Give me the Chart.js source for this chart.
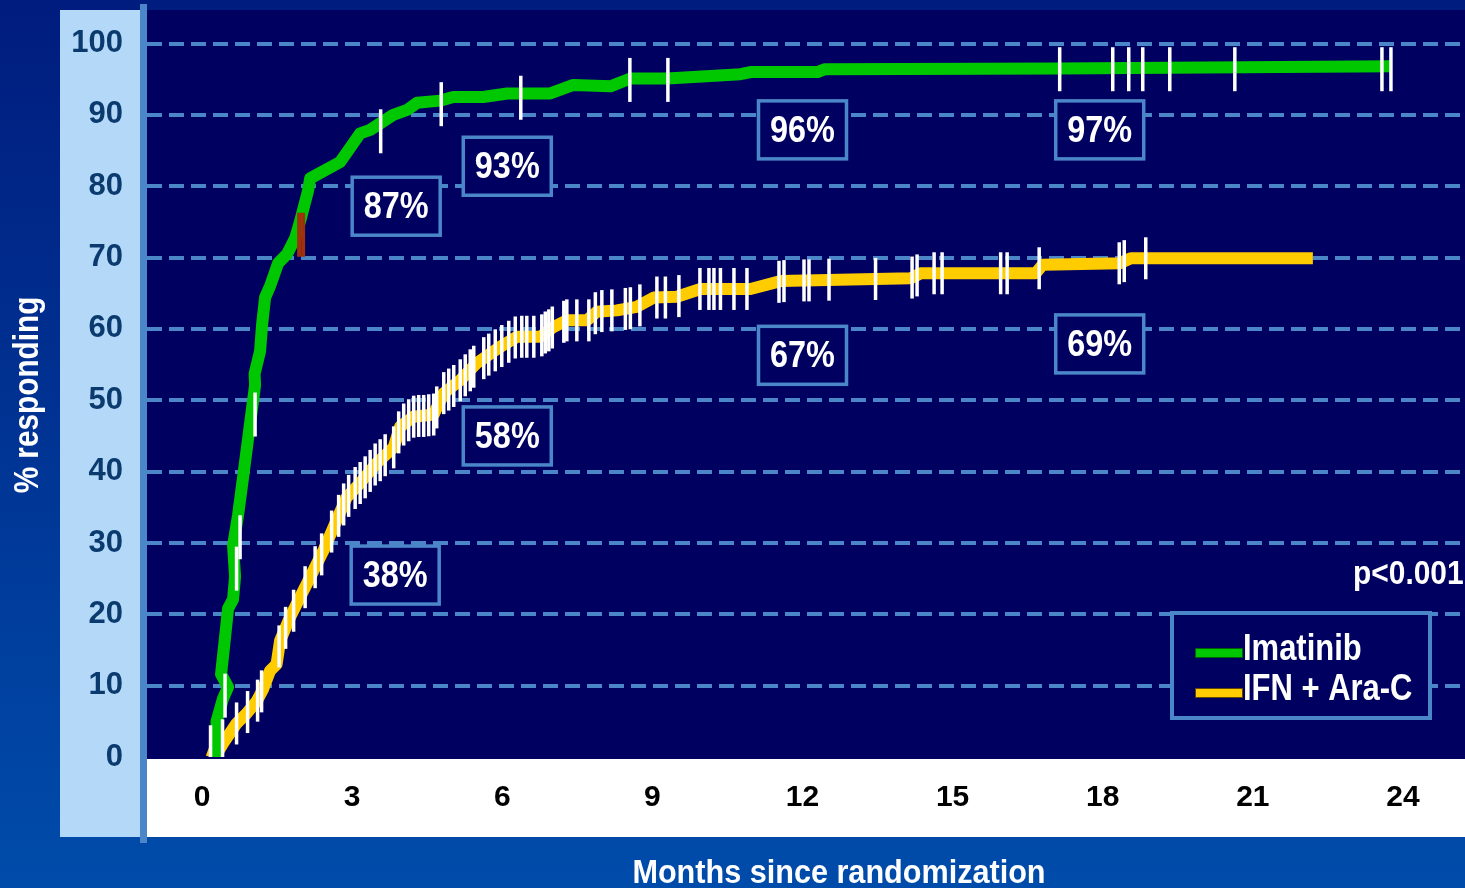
<!DOCTYPE html>
<html>
<head>
<meta charset="utf-8">
<script src="https://cdn.jsdelivr.net/npm/chart.js@4.4.1/dist/chart.umd.min.js"></script>
<style>
  html, body { margin: 0; padding: 0; background: #0a3a9a; }
  #wrap { width: 1465px; height: 888px; }
</style>
</head>
<body>
<div id="wrap"><canvas id="chart-response" width="1465" height="888"></canvas></div>
<script>
//---------------------- data ----------------------
var xTicks = [0, 3, 6, 9, 12, 15, 18, 21, 24];
var yTicks = [0, 10, 20, 30, 40, 50, 60, 70, 80, 90, 100];
var seriesNames = ['Imatinib', 'IFN + Ara-C'];

// cumulative response curves (months, % responding)
var imaMonths = [0.28, 0.29, 0.42, 0.52, 0.38, 0.46, 0.52, 0.62, 0.66, 0.62, 0.72, 0.82, 0.92, 1.0, 1.06, 1.05, 1.16, 1.2, 1.26, 1.36, 1.52, 1.7, 1.86, 1.96, 2.12, 2.16, 2.76, 3.16, 3.36, 3.82, 4.1, 4.3, 4.76, 5.02, 5.62, 6.1, 6.96, 7.42, 8.16, 8.56, 9.3, 10.76, 10.96, 12.3, 12.45, 17.1, 23.78];
var imaPct = [0, 5.0, 8.2, 9.8, 11.6, 16.8, 20.8, 22.1, 25.3, 29.6, 33.9, 39.2, 44.6, 48.9, 52.1, 53.7, 56.9, 60.6, 64.4, 66.0, 69.2, 70.5, 72.7, 75.1, 79.4, 81.1, 83.4, 87.4, 87.9, 90.0, 90.7, 91.7, 92.0, 92.5, 92.5, 93.0, 93.0, 94.2, 94.0, 95.1, 95.1, 95.7, 96.0, 96.0, 96.4, 96.5, 96.8];

var ifnMonths = [0.12, 0.3, 0.43, 0.69, 0.89, 1.09, 1.22, 1.36, 1.49, 1.56, 1.76, 1.96, 2.16, 2.43, 2.69, 2.89, 3.16, 3.49, 3.83, 3.96, 4.23, 4.63, 4.83, 5.16, 5.49, 5.96, 6.29, 6.76, 7.03, 7.29, 7.69, 7.89, 8.29, 8.69, 9.03, 9.49, 9.96, 10.96, 11.56, 14.16, 14.36, 16.66, 16.8, 18.34, 18.56, 22.2];
var ifnPct = [1.0, 0.5, 2.0, 4.7, 6.1, 7.8, 9.5, 12.1, 13.0, 16.3, 19.6, 22.4, 25.2, 29.0, 33.2, 36.4, 38.4, 41.2, 43.4, 46.3, 47.7, 48.0, 51.0, 52.8, 55.2, 57.5, 58.9, 58.9, 60.3, 61.2, 61.2, 62.4, 62.6, 63.1, 64.4, 64.5, 65.6, 65.6, 66.7, 67.1, 67.8, 67.8, 69.0, 69.2, 69.9, 69.9];

// censored observations
var imaCensMonths = [0.41, 0.46, 0.69, 0.76, 1.06, 3.57, 4.78, 6.37, 8.55, 9.31, 17.14, 18.2, 18.52, 18.8, 19.34, 20.64, 23.58, 23.76];
var imaCensPct = [2.2, 8.6, 26.4, 30.8, 48.0, 87.7, 91.5, 92.4, 94.9, 94.9, 96.4, 96.4, 96.4, 96.4, 96.4, 96.4, 96.4, 96.4];
var imaFlagMonths = [1.94, 2.02];
var imaFlagPct = [73.2, 73.2];

var ifnCensMonths = [0.17, 0.69, 0.91, 1.11, 1.19, 1.54, 1.67, 1.83, 2.06, 2.26, 2.39, 2.59, 2.73, 2.83, 2.93, 3.06, 3.16, 3.26, 3.36, 3.46, 3.56, 3.66, 3.83, 3.93, 4.03, 4.13, 4.23, 4.33, 4.43, 4.53, 4.63, 4.69, 4.83, 4.93, 5.03, 5.16, 5.26, 5.36, 5.43, 5.63, 5.73, 5.86, 5.99, 6.13, 6.26, 6.39, 6.49, 6.63, 6.79, 6.86, 6.93, 7.0, 7.23, 7.29, 7.49, 7.73, 7.86, 7.99, 8.19, 8.46, 8.56, 8.75, 9.09, 9.26, 9.53, 9.95, 10.13, 10.23, 10.36, 10.63, 10.89, 11.53, 11.63, 12.03, 12.13, 12.53, 13.46, 14.19, 14.29, 14.63, 14.79, 15.96, 16.09, 16.73, 18.33, 18.43, 18.86];
var ifnCensPct = [1.5, 4.7, 6.3, 7.9, 9.2, 15.5, 18.1, 20.5, 23.8, 26.6, 28.4, 31.6, 33.8, 35.4, 36.6, 37.7, 38.4, 39.2, 40.1, 41.0, 41.6, 42.3, 43.4, 45.5, 46.6, 47.2, 47.7, 47.8, 47.8, 47.9, 48.0, 49.0, 51.0, 51.5, 52.0, 52.8, 53.5, 54.2, 54.7, 55.9, 56.4, 57.0, 57.6, 58.2, 58.8, 58.9, 58.9, 58.9, 59.1, 59.5, 59.8, 60.2, 61.0, 61.2, 61.2, 61.2, 62.2, 62.5, 62.6, 62.8, 62.9, 63.3, 64.4, 64.4, 64.6, 65.6, 65.6, 65.6, 65.6, 65.6, 65.6, 66.6, 66.7, 66.8, 66.8, 66.9, 67.0, 67.2, 67.5, 67.8, 67.8, 67.8, 67.8, 68.5, 69.2, 69.5, 69.9];

// boxed response rates and where they sit (months, %)
var boxLabels = ['87%', '93%', '96%', '97%', '38%', '58%', '67%', '69%'];
var boxMonths = [3.88, 6.1, 12.0, 17.94, 3.86, 6.1, 12.0, 17.94];
var boxPct = [77.2, 82.8, 87.9, 87.9, 25.5, 45.0, 56.3, 57.9];
var pValue = 'p<0.001';
var xTitle = 'Months since randomization';
var yTitle = '% responding';

//---------------------------------------------------
var FONT = "'Liberation Sans', Arial, sans-serif";
var NAVY = '#000060';
var STEEL = '#4a86c8';

function toPoints(xs, ys) {
    return xs.map(function (m, i) { return { x: m, y: ys[i] }; });
}

// bold text squeezed horizontally (the slide font is a condensed sans)
function narrowText(ctx, text, x, y, size, sx, align) {
    ctx.save();
    ctx.font = 'bold ' + size + 'px ' + FONT;
    ctx.textAlign = align || 'left';
    ctx.translate(x, y);
    ctx.scale(sx, 1);
    ctx.fillText(text, 0, 0);
    ctx.restore();
}

var backdrop = {
    id: 'backdrop',
    beforeDraw: function (chart) {
        var ctx = chart.ctx, a = chart.chartArea;
        ctx.save();
        var g = ctx.createLinearGradient(0, 0, 0, chart.height);
        g.addColorStop(0, '#001c7e');
        g.addColorStop(1, '#004caa');
        ctx.fillStyle = g;
        ctx.fillRect(0, 0, chart.width, chart.height);
        // pale strip behind the y labels
        ctx.fillStyle = '#b4d8f8';
        ctx.fillRect(60, a.top, a.left - 60, 837 - a.top);
        // plot field
        ctx.fillStyle = NAVY;
        ctx.fillRect(a.left, a.top, a.right - a.left, a.bottom + 2 - a.top);
        // white band with month labels
        ctx.fillStyle = '#ffffff';
        ctx.fillRect(a.left, a.bottom + 2, a.right - a.left, 837 - a.bottom - 2);
        ctx.restore();
    },
    afterDatasetsDraw: function (chart) {
        var ctx = chart.ctx, xs = chart.scales.x, ys = chart.scales.y;
        ctx.save();
        ctx.textBaseline = 'middle';
        for (var i = 0; i < boxLabels.length; i++) {
            var cx = xs.getPixelForValue(boxMonths[i]);
            var cy = ys.getPixelForValue(boxPct[i]);
            ctx.fillStyle = NAVY;
            ctx.fillRect(cx - 44, cy - 29, 88, 58);
            ctx.strokeStyle = STEEL;
            ctx.lineWidth = 3.5;
            ctx.strokeRect(cx - 44, cy - 29, 88, 58);
            ctx.fillStyle = '#ffffff';
            narrowText(ctx, boxLabels[i], cx, cy + 2, 36, 0.9, 'center');
        }
        ctx.restore();
    },
    afterDraw: function (chart) {
        var ctx = chart.ctx, a = chart.chartArea;
        ctx.save();
        // y axis bar
        ctx.fillStyle = STEEL;
        ctx.fillRect(a.left - 7, 4, 7, 839);

        // legend
        ctx.fillStyle = NAVY;
        ctx.fillRect(1172, 613, 258, 105);
        ctx.strokeStyle = STEEL;
        ctx.lineWidth = 4;
        ctx.strokeRect(1172, 613, 258, 105);
        ctx.lineWidth = 1;
        ctx.fillStyle = '#00c800';
        ctx.fillRect(1195, 648, 48, 10);
        ctx.strokeStyle = '#006000';
        ctx.strokeRect(1195.5, 648.5, 47, 9);
        ctx.fillStyle = '#ffcc00';
        ctx.fillRect(1195, 688, 48, 10);
        ctx.strokeStyle = '#604800';
        ctx.strokeRect(1195.5, 688.5, 47, 9);
        ctx.fillStyle = '#ffffff';
        ctx.textBaseline = 'alphabetic';
        narrowText(ctx, seriesNames[0], 1243, 660, 36, 0.86);
        narrowText(ctx, seriesNames[1], 1243, 700, 36, 0.86);

        // p value
        narrowText(ctx, pValue, 1353, 584, 34, 0.88);

        // axis titles
        narrowText(ctx, xTitle, 839, 883, 34, 0.9, 'center');
        ctx.translate(38, 395);
        ctx.rotate(-Math.PI / 2);
        narrowText(ctx, yTitle, 0, 0, 35, 0.85, 'center');
        ctx.restore();
    }
};

var ctxResp = document.getElementById('chart-response').getContext('2d');
var chart_response = new Chart(ctxResp, {
    type: 'line',
    data: {
        datasets: [{
            label: 'imatinib censored',
            data: toPoints(imaCensMonths, imaCensPct),
            showLine: false,
            pointStyle: 'line',
            rotation: 90,
            pointRadius: 22,
            pointBorderColor: '#ffffff',
            pointBorderWidth: 3.5,
            order: 1
        }, {
            label: 'imatinib flagged',
            data: toPoints(imaFlagMonths, imaFlagPct),
            showLine: false,
            pointStyle: 'line',
            rotation: 90,
            pointRadius: 22,
            pointBorderColor: '#a0300c',
            pointBorderWidth: 4,
            order: 1
        }, {
            label: 'ifn censored',
            data: toPoints(ifnCensMonths, ifnCensPct),
            showLine: false,
            pointStyle: 'line',
            rotation: 90,
            pointRadius: 21,
            pointBorderColor: '#ffffff',
            pointBorderWidth: 3.5,
            order: 1
        }, {
            label: seriesNames[0],
            data: toPoints(imaMonths, imaPct),
            borderColor: '#00c800',
            borderWidth: 12,
            borderJoinStyle: 'round',
            pointRadius: 0,
            tension: 0,
            fill: false,
            order: 2
        }, {
            label: seriesNames[1],
            data: toPoints(ifnMonths, ifnPct),
            borderColor: '#ffcc00',
            borderWidth: 12,
            borderJoinStyle: 'round',
            pointRadius: 0,
            tension: 0,
            fill: false,
            order: 3
        }]
    },
    options: {
        responsive: false,
        devicePixelRatio: 1,
        animation: false,
        events: [],
        layout: { autoPadding: false, padding: { top: 10, left: 0, right: 0, bottom: 0 } },
        plugins: { legend: { display: false }, tooltip: { enabled: false } },
        scales: {
            x: {
                type: 'linear',
                min: -1.1,
                max: 25.24,
                afterBuildTicks: function (s) { s.ticks = xTicks.map(function (v) { return { value: v }; }); },
                afterFit: function (s) { s.height = 131; s.paddingLeft = 0; s.paddingRight = 0; },
                grid: { display: false },
                border: { display: false },
                ticks: {
                    color: '#000000',
                    font: { family: FONT, size: 30, weight: 'bold' },
                    padding: 15,
                    maxRotation: 0,
                    autoSkip: false
                }
            },
            y: {
                type: 'linear',
                min: 0,
                max: 104.7,
                afterBuildTicks: function (s) { s.ticks = yTicks.map(function (v) { return { value: v }; }); },
                afterFit: function (s) { s.width = 147; s.paddingTop = 0; s.paddingBottom = 0; },
                grid: {
                    color: function (c) { return c.tick && c.tick.value === 0 ? 'rgba(0,0,0,0)' : STEEL; },
                    lineWidth: 4,
                    drawTicks: false
                },
                border: { display: false, dash: [15, 7] },
                ticks: {
                    color: '#0b3b6e',
                    font: { family: FONT, size: 31, weight: 'bold' },
                    padding: 24
                }
            }
        }
    },
    plugins: [backdrop]
});
</script>
</body>
</html>
